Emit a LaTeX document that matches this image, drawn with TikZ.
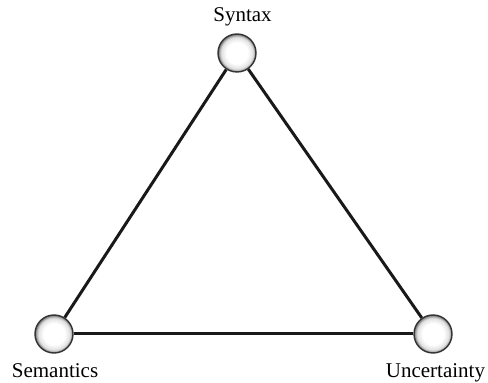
\documentclass[tikz,border=0pt]{standalone}
\usepackage{fontspec}
\setmainfont{Liberation Serif}
\pgfdeclareradialshading{ballshade}{\pgfpoint{0bp}{0bp}}{color(0bp)=(white); color(14bp)=(white); color(21bp)=(black!12); color(25bp)=(black!55); color(50bp)=(black!55)}
\begin{document}
\begin{tikzpicture}[x=1pt,y=1pt,
  ball/.style={circle,minimum size=38pt,inner sep=0pt,draw=black!80,line width=1.4pt,
    shading=ballshade},
  lbl/.style={font=\fontsize{21}{24}\selectfont,inner sep=0pt,anchor=base},
  edge/.style={line width=3pt,black!90}]
\useasboundingbox (0,0) rectangle (488,383);
\node[ball] (syn) at (237,330) {};
\node[ball] (sem) at (54,49) {};
\node[ball] (unc) at (433,49) {};
\draw[edge] (syn) -- (sem);
\draw[edge] (syn) -- (unc);
\draw[edge] (sem) -- (unc);
\node[lbl] (tsyn) at (242.5,361) {Syntax};
\node[lbl] (tsem) at (55,5) {Semantics};
\node[lbl] (tunc) at (435.5,5) {Uncertainty};
\end{tikzpicture}
\end{document}
